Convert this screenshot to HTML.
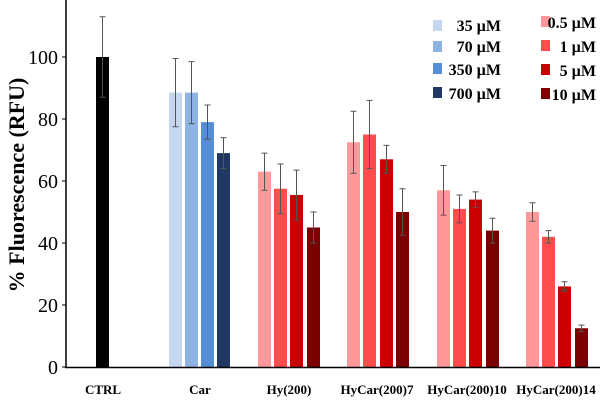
<!DOCTYPE html>
<html><head><meta charset="utf-8"><style>
html,body{margin:0;padding:0;background:#fff;}
svg{display:block;font-family:"Liberation Serif",serif;}
</style></head><body>
<svg width="600" height="400" viewBox="0 0 600 400" xmlns="http://www.w3.org/2000/svg">
<g>
<rect x="96" y="57" width="13" height="310" fill="#000"/>
<rect x="169" y="92.65" width="13" height="274.35" fill="#c5d7ee"/>
<rect x="185" y="92.65" width="13" height="274.35" fill="#8db3e2"/>
<rect x="201" y="122.1" width="13" height="244.9" fill="#558ed5"/>
<rect x="217" y="153.1" width="13" height="213.9" fill="#1f3864"/>
<rect x="258" y="171.7" width="13" height="195.3" fill="#ff9999"/>
<rect x="274" y="188.75" width="13" height="178.25" fill="#ff4d4d"/>
<rect x="290" y="194.95" width="13" height="172.05" fill="#cc0000"/>
<rect x="307" y="227.5" width="13" height="139.5" fill="#7b0000"/>
<rect x="347" y="142.25" width="13" height="224.75" fill="#ff9999"/>
<rect x="363" y="134.5" width="13" height="232.5" fill="#ff4d4d"/>
<rect x="380" y="159.3" width="13" height="207.7" fill="#cc0000"/>
<rect x="396" y="212" width="13" height="155" fill="#7b0000"/>
<rect x="437" y="190.3" width="13" height="176.7" fill="#ff9999"/>
<rect x="453" y="208.9" width="13" height="158.1" fill="#ff4d4d"/>
<rect x="469" y="199.6" width="13" height="167.4" fill="#cc0000"/>
<rect x="486" y="230.6" width="13" height="136.4" fill="#7b0000"/>
<rect x="526" y="212" width="13" height="155" fill="#ff9999"/>
<rect x="542" y="236.8" width="13" height="130.2" fill="#ff4d4d"/>
<rect x="558" y="286.4" width="13" height="80.6" fill="#cc0000"/>
<rect x="575" y="328.25" width="13" height="38.75" fill="#7b0000"/>
</g>
<path fill="none" stroke="#555" stroke-width="1" d="
M102.5 16.7V97.3M99.5 16.7H105.5M99.5 97.3H105.5
M175.5 58.55V126.75M172.5 58.55H178.5M172.5 126.75H178.5
M191.5 61.65V123.65M188.5 61.65H194.5M188.5 123.65H194.5
M207.5 105.05V139.15M204.5 105.05H210.5M204.5 139.15H210.5
M223.5 137.6V168.6M220.5 137.6H226.5M220.5 168.6H226.5
M264.5 153.1V190.3M261.5 153.1H267.5M261.5 190.3H267.5
M280.5 163.95V213.55M277.5 163.95H283.5M277.5 213.55H283.5
M296.5 170.15V219.75M293.5 170.15H299.5M293.5 219.75H299.5
M313.5 212V243M310.5 212H316.5M310.5 243H316.5
M353.5 111.25V173.25M350.5 111.25H356.5M350.5 173.25H356.5
M369.5 100.4V168.6M366.5 100.4H372.5M366.5 168.6H372.5
M386.5 145.35V173.25M383.5 145.35H389.5M383.5 173.25H389.5
M402.5 188.75V235.25M399.5 188.75H405.5M399.5 235.25H405.5
M443.5 165.5V215.1M440.5 165.5H446.5M440.5 215.1H446.5
M459.5 194.95V222.85M456.5 194.95H462.5M456.5 222.85H462.5
M475.5 191.85V207.35M472.5 191.85H478.5M472.5 207.35H478.5
M492.5 218.2V243M489.5 218.2H495.5M489.5 243H495.5
M532.5 202.7V221.3M529.5 202.7H535.5M529.5 221.3H535.5
M548.5 230.6V243M545.5 230.6H551.5M545.5 243H551.5
M564.5 281.75V291.05M561.5 281.75H567.5M561.5 291.05H567.5
M581.5 325.15V331.35M578.5 325.15H584.5M578.5 331.35H584.5"/>
<line x1="66" y1="0" x2="66" y2="368" stroke="#000" stroke-width="1.5"/>
<line x1="65" y1="367.5" x2="600" y2="367.5" stroke="#000" stroke-width="1.5"/>
<g font-size="20" text-anchor="end" fill="#000">
<text x="58" y="374">0</text><text x="58" y="312">20</text><text x="58" y="250">40</text>
<text x="58" y="188">60</text><text x="58" y="126">80</text><text x="58" y="64">100</text>
</g>
<g stroke="#000" stroke-width="1"><line x1="62" y1="367" x2="66" y2="367"/><line x1="62" y1="305" x2="66" y2="305"/><line x1="62" y1="243" x2="66" y2="243"/><line x1="62" y1="181" x2="66" y2="181"/><line x1="62" y1="119" x2="66" y2="119"/><line x1="62" y1="57" x2="66" y2="57"/></g>
<text transform="translate(24,185) rotate(-90)" font-size="22" font-weight="bold" text-anchor="middle">% Fluorescence (RFU)</text>
<g font-size="13" font-weight="bold" text-anchor="middle">
<text x="103" y="394">CTRL</text><text x="200" y="394">Car</text><text x="289" y="394">Hy(200)</text>
<text x="377" y="394">HyCar(200)7</text><text x="467" y="394">HyCar(200)10</text><text x="556" y="394">HyCar(200)14</text>
</g>
<g font-size="16" font-weight="bold" text-anchor="end">
<rect x="433" y="20" width="9" height="11" fill="#c5d7ee"/><text x="501" y="31">35 µM</text>
<rect x="433" y="41" width="9" height="11" fill="#8db3e2"/><text x="501" y="52">70 µM</text>
<rect x="433" y="63" width="9" height="11" fill="#558ed5"/><text x="501" y="75">350 µM</text>
<rect x="433" y="87" width="9" height="11" fill="#1f3864"/><text x="501" y="99">700 µM</text>
<rect x="541" y="16" width="9" height="11" fill="#ff9999"/><text x="596" y="28">0.5 µM</text>
<rect x="541" y="40" width="9" height="11" fill="#ff4d4d"/><text x="596" y="52">1 µM</text>
<rect x="541" y="64" width="9" height="11" fill="#cc0000"/><text x="596" y="76">5 µM</text>
<rect x="541" y="88" width="9" height="11" fill="#7b0000"/><text x="596" y="100">10 µM</text>
</g>
</svg>
</body></html>
